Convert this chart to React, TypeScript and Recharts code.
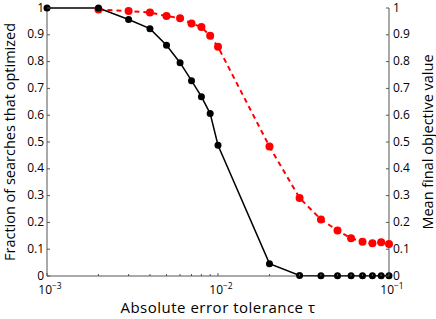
import React from 'react';
import { LineChart, Line, XAxis, YAxis, Label } from 'recharts';

// tolerance values (log x axis)
const TAU = [0.001, 0.002, 0.003, 0.004, 0.005, 0.006, 0.007, 0.008, 0.009, 0.01,
  0.02, 0.03, 0.04, 0.05, 0.06, 0.07, 0.08, 0.09, 0.1];

// fraction of searches that optimized (left axis, black)
const FRACTION = [1, 1, 0.957, 0.923, 0.861, 0.796, 0.729, 0.669, 0.606, 0.488,
  0.046, 0.002, 0.001, 0.001, 0.001, 0.001, 0.001, 0.001, 0.001];

// mean final objective value (right axis, red dashed)
const MEAN_OBJ = [null, 0.994, 0.989, 0.983, 0.970, 0.962, 0.942, 0.929, 0.896, 0.855,
  0.483, 0.291, 0.211, 0.170, 0.141, 0.128, 0.122, 0.126, 0.119];

const Y_TICKS = [0, 0.1, 0.2, 0.3, 0.4, 0.5, 0.6, 0.7, 0.8, 0.9, 1];
const X_TICKS = TAU;
const DECADES: Record<string, string> = { '0.001': '−3', '0.01': '−2', '0.1': '−1' };

const data = TAU.map((t, i) => ({ tau: t, frac: FRACTION[i], obj: MEAN_OBJ[i] }));

const FONT = '"Open Sans", sans-serif';
const AXIS = '#555';

const LeftTick = (props: any) => {
  const { x, y, payload } = props;
  const ax = x + 3;
  return (
    <g>
      <line x1={ax} x2={ax + 3} y1={y} y2={y} stroke={AXIS} />
      <text x={x} y={y} dy={3.5} textAnchor="end" fontSize={12} fontFamily={FONT} fill="#000">
        {payload.value}
      </text>
    </g>
  );
};

const RightTick = (props: any) => {
  const { x, y, payload } = props;
  const ax = x - 4;
  return (
    <g>
      <line x1={ax} x2={ax - 3} y1={y} y2={y} stroke={AXIS} />
      <text x={x} y={y} dy={3.5} textAnchor="start" fontSize={12} fontFamily={FONT} fill="#000">
        {payload.value}
      </text>
    </g>
  );
};

const BottomTick = (props: any) => {
  const { x, y, payload } = props;
  const ax = y - 2;
  const sup = DECADES[String(payload.value)];
  return (
    <g>
      <line x1={x} x2={x} y1={ax} y2={ax - (sup ? 3 : 2)} stroke={AXIS} />
      {sup && (
        <text x={x + 3} y={y + 16} textAnchor="middle" fontSize={12} fontFamily={FONT} fill="#000">
          10<tspan dy={-5} fontSize={8.5}>{sup}</tspan>
        </text>
      )}
    </g>
  );
};

const TopTick = (props: any) => {
  const { x, y, payload } = props;
  const sup = DECADES[String(payload.value)];
  return <line x1={x} x2={x} y1={y} y2={y + (sup ? 3 : 2)} stroke={AXIS} />;
};

const vTitle = (text: string, cx: number) => (props: any) => {
  const vb = props.viewBox || {};
  const cy = (vb.y ?? 8) + (vb.height ?? 268) / 2;
  return (
    <text
      x={cx}
      y={cy}
      transform={`rotate(-90 ${cx} ${cy})`}
      textAnchor="middle"
      dominantBaseline="central"
      fontSize={14.5}
      fontFamily={FONT}
      fill="#000"
    >
      {text}
    </text>
  );
};

const xTitle = (props: any) => {
  const vb = props.viewBox || {};
  const cx = (vb.x ?? 47) + (vb.width ?? 342) / 2;
  return (
    <text x={cx} y={313} textAnchor="middle" fontSize={15} letterSpacing={0.5} fontFamily={FONT} fill="#000">
      Absolute error tolerance τ
    </text>
  );
};

export default function App() {
  return (
    <div style={{ position: 'absolute', left: 0, top: 0, background: '#fff' }}>
      <LineChart width={436} height={319} data={data} margin={{ top: 8, right: 0, bottom: 0, left: 0 }}>
        <XAxis
          xAxisId="bottom"
          dataKey="tau"
          type="number"
          scale="log"
          domain={[0.001, 0.1]}
          ticks={X_TICKS}
          interval={0}
          height={43}
          tickSize={0}
          tickMargin={2}
          tickLine={false}
          axisLine={{ stroke: AXIS }}
          tick={<BottomTick />}
        >
          <Label content={xTitle} />
        </XAxis>
        <XAxis
          xAxisId="top"
          orientation="top"
          dataKey="tau"
          type="number"
          scale="log"
          domain={[0.001, 0.1]}
          ticks={X_TICKS}
          interval={0}
          height={0}
          tickSize={0}
          tickMargin={0}
          tickLine={false}
          axisLine={{ stroke: AXIS }}
          tick={<TopTick />}
        />
        <YAxis
          yAxisId="left"
          domain={[0, 1]}
          ticks={Y_TICKS}
          interval={0}
          width={47}
          tickSize={0}
          tickMargin={3}
          tickLine={false}
          axisLine={{ stroke: AXIS }}
          tick={<LeftTick />}
        >
          <Label content={vTitle('Fraction of searches that optimized', 9)} />
        </YAxis>
        <YAxis
          yAxisId="right"
          orientation="right"
          domain={[0, 1]}
          ticks={Y_TICKS}
          interval={0}
          width={47}
          tickSize={0}
          tickMargin={4}
          tickLine={false}
          axisLine={{ stroke: AXIS }}
          tick={<RightTick />}
        >
          <Label content={vTitle('Mean final objective value', 427)} />
        </YAxis>
        <Line
          xAxisId="bottom"
          yAxisId="right"
          dataKey="obj"
          stroke="#ff0000"
          strokeWidth={2}
          strokeDasharray="5 4"
          dot={{ r: 4, fill: '#ff0000', stroke: '#ff0000', strokeWidth: 0 }}
          isAnimationActive={false}
        />
        <Line
          xAxisId="bottom"
          yAxisId="left"
          dataKey="frac"
          stroke="#000"
          strokeWidth={1.5}
          dot={{ r: 3.5, fill: '#000', stroke: '#000', strokeWidth: 0 }}
          isAnimationActive={false}
        />
      </LineChart>
    </div>
  );
}
